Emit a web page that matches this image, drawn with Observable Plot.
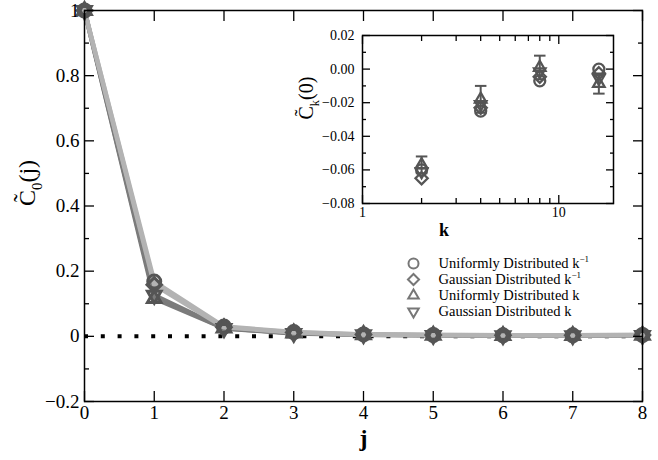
<!DOCTYPE html>
<html><head><meta charset="utf-8">
<script src="https://cdn.jsdelivr.net/npm/d3@7"></script>
<script src="https://cdn.jsdelivr.net/npm/@observablehq/plot@0.6"></script>
<style>
body{margin:0;background:#fff;}
#wrap{position:relative;width:658px;height:460px;font-family:"Liberation Serif",serif;}
#wrap svg{position:absolute;overflow:visible;}
#wrap svg text{font-family:"Liberation Serif",serif !important;}
</style></head><body><div id="wrap"></div>
<script>
// ---------- data ----------
const seriesNames = ["Uniformly Distributed k\u207B\u00B9", "Gaussian Distributed k\u207B\u00B9", "Uniformly Distributed k", "Gaussian Distributed k"];
const j = [0, 1, 2, 3, 4, 5, 6, 7, 8];
const uniformInvK = [1, 0.168, 0.030, 0.013, 0.006, 0.004, 0.003, 0.003, 0.004];
const gaussInvK   = [1, 0.158, 0.028, 0.012, 0.006, 0.004, 0.003, 0.003, 0.004];
const uniformK    = [1, 0.116, 0.025, 0.010, 0.005, 0.003, 0.002, 0.002, 0.003];
const gaussK      = [1, 0.126, 0.024, 0.009, 0.005, 0.003, 0.002, 0.002, 0.003];

const k = [2, 4, 8, 16];
const insetUniformInvK = [-0.060, -0.025, -0.007, 0.000];
const insetGaussInvK   = [-0.065, -0.023, -0.0045, -0.0025];
const insetUniformK    = [-0.057, -0.018, 0.001, -0.0086];
const insetGaussK      = [-0.061, -0.021, -0.0015, -0.0055];
const insetUniformKErr = [0.005, 0.008, 0.007, 0.006];

const xTicks = [0, 1, 2, 3, 4, 5, 6, 7, 8];
const xTickLabels = ["0", "1", "2", "3", "4", "5", "6", "7", "8"];
const yTicks = [-0.2, 0, 0.2, 0.4, 0.6, 0.8, 1];
const yTickLabels = ["\u22120.2", "0", "0.2", "0.4", "0.6", "0.8", "1"];
const yMinorTicks = [-0.1, 0.1, 0.3, 0.5, 0.7, 0.9];

const insetXTicks = [1, 10];
const insetXTickLabels = ["1", "10"];
const insetXMinorTicks = [2, 3, 4, 5, 6, 7, 8, 9];
const insetYTicks = [-0.08, -0.06, -0.04, -0.02, 0, 0.02];
const insetYTickLabels = ["\u22120.08", "\u22120.06", "\u22120.04", "\u22120.02", "0.00", "0.02"];
const insetYMinorTicks = [-0.07, -0.05, -0.03, -0.01, 0.01];

// ---------- styling ----------
const FONT = "Liberation Serif";
const markerStroke = "#555555";
const triangleDown = {draw(ctx, size) {
  const s = Math.sqrt(size) * 0.6824, t = s / 2, u = s * Math.sqrt(3) / 2;
  ctx.moveTo(0, s); ctx.lineTo(u, -t); ctx.lineTo(-u, -t); ctx.closePath();
}};
const capSymbol = {draw(ctx, size) {
  const w = Math.sqrt(size) * 0.65;
  ctx.moveTo(-w, 0); ctx.lineTo(w, 0);
}};
const symbolRange = ["circle", "diamond2", "triangle2", triangleDown];

const mainSeries = [uniformInvK, gaussInvK, uniformK, gaussK];
const mainData = seriesNames.flatMap((s, si) => j.map((x, i) => ({series: s, j: x, c: mainSeries[si][i], inv: si < 2})));
const insetSeries = [insetUniformInvK, insetGaussInvK, insetUniformK, insetGaussK];
const insetData = seriesNames.flatMap((s, si) => k.map((x, i) => ({series: s, k: x, c: insetSeries[si][i]})));
const errData = k.map((x, i) => ({k: x, lo: insetUniformK[i] - insetUniformKErr[i], hi: insetUniformK[i] + insetUniformKErr[i]}));

const fmt = (ticks, labels) => d => labels[ticks.indexOf(d)];
const blank = () => "";

function tickAxes(axisFn, anchorA, anchorB, ticks, len) {
  // inward ticks on both sides
  const sA = (anchorA === "bottom" || anchorA === "right") ? -1 : 1;
  const sB = -sA;
  const o = axisFn === Plot.axisX ? "dy" : "dx";
  return [
    axisFn({anchor: anchorA, ticks, tickSize: len, [o]: sA * len, tickFormat: blank, label: null, strokeWidth: 1.3}),
    axisFn({anchor: anchorB, ticks, tickSize: len, [o]: sB * len, tickFormat: blank, label: null, strokeWidth: 1.3})
  ];
}

// ---------- main chart ----------
const main = Plot.plot({
  width: 658, height: 460,
  marginLeft: 84, marginRight: 16, marginTop: 10, marginBottom: 59,
  style: {fontFamily: FONT, fontSize: "19px", background: "transparent", color: "black"},
  x: {domain: [0, 8]},
  y: {domain: [-0.2, 1]},
  symbol: {domain: seriesNames, range: symbolRange},
  marks: [
    Plot.ruleY([0], {stroke: "black", strokeWidth: 4, strokeDasharray: "4,12.8"}),
    Plot.line(mainData.filter(d => !d.inv), {x: "j", y: "c", z: "series", stroke: "#7b7b7b", strokeWidth: 4.5}),
    Plot.line(mainData.filter(d => d.inv), {x: "j", y: "c", z: "series", stroke: "#b3b3b3", strokeWidth: 4.5}),
    Plot.dot(mainData, {x: "j", y: "c", symbol: "series", stroke: markerStroke, strokeWidth: 3, r: 6.5, fill: "none"}),
    Plot.frame({stroke: "black", strokeWidth: 1.5}),
    ...tickAxes(Plot.axisX, "bottom", "top", xTicks, 10),
    ...tickAxes(Plot.axisY, "left", "right", yTicks, 10),
    ...tickAxes(Plot.axisY, "left", "right", yMinorTicks, 5),
    Plot.axisX({anchor: "bottom", ticks: xTicks, tickSize: 0, tickPadding: 4, tickFormat: fmt(xTicks, xTickLabels), label: null, fontFamily: FONT}),
    Plot.axisY({anchor: "left", ticks: yTicks, tickSize: 0, tickPadding: 5, tickFormat: fmt(yTicks, yTickLabels), label: null, fontFamily: FONT}),
    Plot.text(["j"], {text: d => d, frameAnchor: "bottom", dy: 44, fontSize: 24, fontWeight: "bold", fontFamily: FONT}),
    Plot.text(["C0(j)"], {text: d => d, frameAnchor: "left", dx: -57, dy: 0, rotate: -90, fontSize: 24, fontFamily: FONT})
  ]
});

// ---------- inset ----------
const inset = Plot.plot({
  width: 330, height: 240,
  marginLeft: 62, marginRight: 17, marginTop: 21, marginBottom: 51,
  style: {fontFamily: FONT, fontSize: "14px", background: "transparent", color: "black"},
  x: {type: "log", domain: [1, 19]},
  y: {domain: [-0.08, 0.02]},
  symbol: {domain: seriesNames, range: symbolRange},
  marks: [
    Plot.ruleX(errData, {x: "k", y1: "lo", y2: "hi", stroke: markerStroke, strokeWidth: 2}),
    Plot.dot(errData, {x: "k", y: "hi", symbol: () => capSymbol, r: 5, stroke: markerStroke, strokeWidth: 2, fill: "none"}),
    Plot.dot(errData, {x: "k", y: "lo", symbol: () => capSymbol, r: 5, stroke: markerStroke, strokeWidth: 2, fill: "none"}),
    Plot.dot(insetData, {x: "k", y: "c", symbol: "series", stroke: markerStroke, strokeWidth: 2.3, r: 5.5, fill: "none"}),
    Plot.frame({stroke: "black", strokeWidth: 1.5}),
    ...tickAxes(Plot.axisX, "bottom", "top", insetXTicks, 8),
    ...tickAxes(Plot.axisX, "bottom", "top", insetXMinorTicks, 5),
    ...tickAxes(Plot.axisY, "left", "right", insetYTicks, 8),
    ...tickAxes(Plot.axisY, "left", "right", insetYMinorTicks, 4),
    Plot.axisX({anchor: "bottom", ticks: insetXTicks, tickSize: 0, tickPadding: 4, tickFormat: fmt(insetXTicks, insetXTickLabels), label: null, fontFamily: FONT}),
    Plot.axisY({anchor: "left", ticks: insetYTicks, tickSize: 0, tickPadding: 8, tickFormat: fmt(insetYTicks, insetYTickLabels), label: null, fontFamily: FONT}),
    Plot.text(["k"], {text: d => d, frameAnchor: "bottom", dx: -44, dy: 32, fontSize: 18, fontWeight: "bold", fontFamily: FONT}),
    Plot.text(["Ck(0)"], {text: d => d, frameAnchor: "left", dx: -56, rotate: -90, fontSize: 20, fontFamily: FONT})
  ]
});

// ---------- legend ----------
const legend = Plot.plot({
  width: 263, height: 92,
  marginLeft: 18, marginRight: 0, marginTop: 12, marginBottom: 16,
  style: {fontFamily: FONT, fontSize: "14.5px", background: "transparent", color: "black"},
  y: {type: "point", domain: seriesNames, axis: null},
  symbol: {domain: seriesNames, range: symbolRange},
  marks: [
    Plot.dot(seriesNames, {y: d => d, symbol: d => d, frameAnchor: "left", stroke: "#777777", strokeWidth: 2, r: 5, fill: "none"}),
    Plot.text(seriesNames, {y: d => d, text: d => d, frameAnchor: "left", dx: 25, textAnchor: "start", fontFamily: FONT})
  ]
});

const wrap = document.getElementById("wrap");
main.style.left = "0px"; main.style.top = "0px";
inset.style.left = "300px"; inset.style.top = "14px";
legend.style.left = "395px"; legend.style.top = "243px";
wrap.append(main, inset, legend);

// rich text: C with tilde + subscript
function richLabel(svg, raw, sub, tail, fs) {
  d3.select(svg).selectAll("text").filter(function() { return this.textContent === raw; }).each(function() {
    const t = d3.select(this); t.text(null);
    const cw = 0.667 * fs, tw = 0.333 * fs, up = 0.2 * fs, down = 0.28 * fs;
    t.append("tspan").text("C");
    t.append("tspan").attr("dx", -(cw / 2 + tw / 2)).attr("dy", -up).text("\u02DC");
    t.append("tspan").attr("dx", cw / 2 - tw / 2).attr("dy", up + down).attr("font-size", fs * 0.62).text(sub);
    t.append("tspan").attr("dy", -down).text(tail);
  });
}
richLabel(main, "C0(j)", "0", "(j)", 24);
richLabel(inset, "Ck(0)", "k", "(0)", 20);
d3.select(legend).selectAll("text").each(function() {
  const s = this.textContent;
  if (s.endsWith("\u207B\u00B9")) {
    const t = d3.select(this); t.text(null);
    t.append("tspan").text(s.slice(0, -2));
    t.append("tspan").attr("font-size", 9).attr("dy", -6).text("\u22121");
  }
});
</script></body></html>
